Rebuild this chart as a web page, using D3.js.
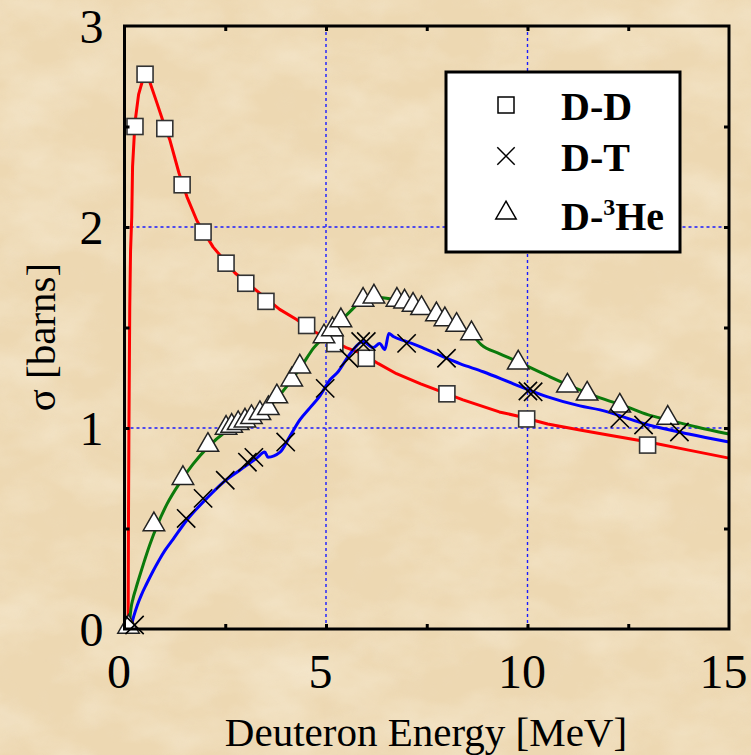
<!DOCTYPE html>
<html><head><meta charset="utf-8">
<script src="https://cdn.jsdelivr.net/npm/d3@7"></script>
<style>
html,body{margin:0;padding:0;background:#ecd6ae;}
svg{display:block;}
svg text{font-family:"Liberation Serif","Times New Roman",Times,serif;}
</style>
</head><body>
<svg id="chart" width="751" height="755"></svg>
<script>
// ---------- DATA ----------
const xTicks = [0, 5, 10, 15];
const yTicks = [0, 1, 2, 3];
const xMinor = [2.5, 5, 7.5, 10, 12.5];
const yMinor = [0.5, 1, 1.5, 2, 2.5];
const xGrid = [5, 10];
const yGrid = [1, 2];
const seriesNames = ["D-D", "D-T", "D-3He"];

// D-D curve (red)
const ddCurve = [[0.09,0],[0.10,0.6],[0.11,1.0],[0.13,1.6],[0.15,1.88],[0.18,2.05],[0.20,2.30],[0.26,2.52],[0.35,2.66],[0.45,2.73],[0.56,2.76],[0.63,2.72],[0.8,2.62],[0.95,2.53],[1.13,2.43],[1.35,2.27],[1.55,2.15],[1.8,2.03],[2.2,1.9],[2.75,1.77],[3.3,1.68],[3.85,1.59],[4.27,1.54],[4.7,1.48],[5.2,1.43],[5.5,1.40],[5.9,1.37],[6.3,1.32],[6.75,1.27],[7.35,1.22],[8.4,1.14],[9.3,1.08],[9.75,1.06],[10.5,1.02],[11.3,0.99],[12.0,0.965],[13.0,0.93],[14.0,0.89],[15.0,0.85]];
// D-T curve (blue)
const dtCurve = [[0.17,0],[0.19,0.03],[0.24,0.07],[0.32,0.12],[0.42,0.17],[0.55,0.225],[0.7,0.285],[0.85,0.34],[1.0,0.39],[1.2,0.445],[1.54,0.54],[2.04,0.65],[2.45,0.73],[2.86,0.79],[3.28,0.85],[3.48,0.88],[3.56,0.855],[3.86,0.88],[4.1,0.957],[4.35,1.04],[4.6,1.10],[4.85,1.16],[5.1,1.24],[5.3,1.28],[5.6,1.37],[5.92,1.43],[6.17,1.40],[6.33,1.42],[6.46,1.39],[6.56,1.47],[6.67,1.455],[7.0,1.43],[7.33,1.405],[7.5,1.39],[7.9,1.355],[8.32,1.32],[8.9,1.28],[9.65,1.22],[10.5,1.155],[11.3,1.11],[11.8,1.09],[13.0,1.015],[14.0,0.97],[15.0,0.93]];
// D-3He curve (green)
const dheCurve = [[0.12,0],[0.135,0.05],[0.16,0.1],[0.21,0.15],[0.28,0.2],[0.37,0.26],[0.48,0.33],[0.63,0.42],[0.8,0.51],[1.05,0.62],[1.38,0.73],[1.7,0.82],[2.07,0.905],[2.5,0.98],[3.0,1.04],[3.4,1.08],[3.7,1.13],[4.15,1.24],[4.4,1.31],[4.7,1.40],[5.0,1.46],[5.2,1.49],[5.4,1.54],[5.6,1.58],[5.9,1.635],[6.2,1.65],[6.5,1.645],[6.8,1.635],[7.2,1.61],[7.7,1.565],[8.2,1.51],[8.6,1.47],[8.85,1.415],[9.3,1.37],[9.7,1.335],[10.5,1.26],[11.0,1.215],[11.8,1.15],[12.4,1.11],[13.0,1.065],[13.5,1.04],[14.2,1.005],[15.0,0.97]];

// measured points
const ddPoints = [[0.26,2.50],[0.51,2.76],[1.0,2.49],[1.43,2.21],[1.95,1.975],[2.52,1.82],[3.01,1.72],[3.51,1.63],[4.52,1.51],[5.22,1.42],[6.0,1.347],[8.0,1.17],[9.98,1.045],[12.98,0.915]];
const dtPoints = [[0.25,0.02],[1.53,0.55],[1.95,0.65],[2.5,0.74],[3.05,0.83],[3.21,0.854],[4.0,0.93],[4.98,1.197],[5.57,1.347],[5.86,1.43],[6.0,1.43],[7.0,1.421],[7.99,1.347],[10.01,1.184],[10.14,1.18],[12.29,1.048],[12.88,1.015],[13.77,0.98]];
const dhePoints = [[0.1,0.01],[0.73,0.52],[1.45,0.75],[2.07,0.915],[2.52,1.0],[2.66,1.01],[2.82,1.023],[2.99,1.036],[3.15,1.053],[3.36,1.073],[3.57,1.098],[3.78,1.156],[4.15,1.24],[4.35,1.305],[4.95,1.455],[5.16,1.49],[5.37,1.535],[5.92,1.637],[6.19,1.653],[6.76,1.637],[6.95,1.628],[7.16,1.612],[7.37,1.595],[7.74,1.565],[7.95,1.54],[8.24,1.512],[8.61,1.47],[9.77,1.325],[10.99,1.21],[11.48,1.17],[12.29,1.11],[13.48,1.05]];

// ---------- LAYOUT ----------
const W = 751, H = 755;
const L = 124.5, R = 729, T = 26, B = 629;
const svg = d3.select("#chart");
const x = d3.scaleLinear().domain([0, 15]).range([L, R]);
const y = d3.scaleLinear().domain([0, 3]).range([B, T]);
const serif = "Liberation Serif";

// background texture (subtle parchment)
const defs = svg.append("defs");
const f = defs.append("filter").attr("id", "tex").attr("x", 0).attr("y", 0).attr("width", 1).attr("height", 1);
f.append("feTurbulence").attr("type", "fractalNoise").attr("baseFrequency", "0.012 0.02").attr("numOctaves", 4).attr("seed", 7);
f.append("feColorMatrix").attr("type", "matrix")
  .attr("values", "0 0 0 0 0.97  0 0 0 0 0.91  0 0 0 0 0.78  1.2 0 0 0 -0.45");
const f2 = defs.append("filter").attr("id", "tex2").attr("x", 0).attr("y", 0).attr("width", 1).attr("height", 1);
f2.append("feTurbulence").attr("type", "fractalNoise").attr("baseFrequency", "0.04 0.03").attr("numOctaves", 3).attr("seed", 21);
f2.append("feColorMatrix").attr("type", "matrix")
  .attr("values", "0 0 0 0 0.85  0 0 0 0 0.74  0 0 0 0 0.58  1.0 0 0 0 -0.5");
svg.append("rect").attr("width", W).attr("height", H).attr("fill", "#edd8b2");
svg.append("rect").attr("width", W).attr("height", H).attr("filter", "url(#tex)").attr("opacity", 0.7);
svg.append("rect").attr("width", W).attr("height", H).attr("filter", "url(#tex2)").attr("opacity", 0.35);

// grid
const grid = svg.append("g").attr("stroke", "#1a1aff").attr("stroke-width", 1.4).attr("stroke-dasharray", "3,3");
grid.selectAll(".gx").data(xGrid).join("line").attr("x1", d => x(d)).attr("x2", d => x(d)).attr("y1", T).attr("y2", B);
grid.selectAll(".gy").data(yGrid).join("line").attr("y1", d => y(d)).attr("y2", d => y(d)).attr("x1", L).attr("x2", R);

// curves
const lineS = d3.line().x(d => x(d[0])).y(d => y(d[1])).curve(d3.curveMonotoneX);
const lineV = d3.line().x(d => x(d[0])).y(d => y(d[1])).curve(d3.curveLinear);
svg.append("path").datum(ddCurve).attr("d", lineV).attr("fill", "none").attr("stroke", "#ff0000").attr("stroke-width", 3).attr("stroke-linejoin", "round");
svg.append("path").datum(dheCurve).attr("d", lineS).attr("fill", "none").attr("stroke", "#0b7a0b").attr("stroke-width", 3).attr("stroke-linejoin", "round");
svg.append("path").datum(dtCurve).attr("d", lineS).attr("fill", "none").attr("stroke", "#0000ff").attr("stroke-width", 3).attr("stroke-linejoin", "round");

// markers
const sq = 16;
svg.append("g").selectAll("rect").data(ddPoints).join("rect")
  .attr("x", d => x(d[0]) - sq/2).attr("y", d => y(d[1]) - sq/2).attr("width", sq).attr("height", sq)
  .attr("fill", "#fff").attr("stroke", "#333").attr("stroke-width", 1.6);
const tri = d3.symbol().type(d3.symbolTriangle).size(200);
svg.append("g").selectAll("path").data(dhePoints).join("path")
  .attr("d", tri).attr("transform", d => `translate(${x(d[0])},${y(d[1])})`)
  .attr("fill", "#fff").attr("stroke", "#222").attr("stroke-width", 1.5).attr("stroke-linejoin", "miter");
const cross = d3.symbol().type(d3.symbolX).size(220);
svg.append("g").selectAll("path").data(dtPoints).join("path")
  .attr("d", cross).attr("transform", d => `translate(${x(d[0])},${y(d[1])})`)
  .attr("fill", "none").attr("stroke", "#000").attr("stroke-width", 1.6);

// axes (ticks inward)
const axG = svg.append("g");
axG.append("g").attr("transform", `translate(0,${B})`).call(d3.axisBottom(x).tickValues(xMinor).tickSize(-5).tickFormat(""));
axG.append("g").attr("transform", `translate(0,${T})`).call(d3.axisTop(x).tickValues(xMinor).tickSize(-5).tickFormat(""));
axG.append("g").attr("transform", `translate(${L},0)`).call(d3.axisLeft(y).tickValues(yMinor).tickSize(-5).tickFormat(""));
axG.append("g").attr("transform", `translate(${R},0)`).call(d3.axisRight(y).tickValues(yMinor).tickSize(-5).tickFormat(""));
axG.selectAll(".domain").remove();
axG.selectAll(".tick line").attr("stroke", "#000").attr("stroke-width", 3);
svg.append("rect").attr("x", L).attr("y", T).attr("width", R - L).attr("height", B - T)
  .attr("fill", "none").attr("stroke", "#000").attr("stroke-width", 3);

// tick labels
const xl = svg.append("g").attr("transform", `translate(0,${B})`)
  .call(d3.axisBottom(x).tickValues(xTicks).tickSize(0).tickPadding(0).tickFormat(d3.format("d")));
xl.select(".domain").remove();
xl.attr("font-family", null).attr("font-size", null);
xl.selectAll("text").style("font-family", serif).attr("font-size", 48).attr("fill", "#000")
  .attr("dy", null).attr("y", 59).attr("dx", -6);
const yl = svg.append("g").attr("transform", `translate(${L},0)`)
  .call(d3.axisLeft(y).tickValues(yTicks).tickSize(0).tickPadding(0).tickFormat(d3.format("d")));
yl.select(".domain").remove();
yl.attr("font-family", null).attr("font-size", null);
yl.selectAll("text").style("font-family", serif).attr("font-size", 48).attr("fill", "#000")
  .attr("x", -21).attr("dy", 16);

// axis titles
svg.append("text").attr("x", 426).attr("y", 746).attr("text-anchor", "middle")
  .style("font-family", serif).attr("font-size", 41).text("Deuteron Energy [MeV]");
svg.append("text").attr("transform", "translate(55,337) rotate(-90)").attr("text-anchor", "middle")
  .style("font-family", serif).attr("font-size", 41).text("σ [barns]");

// legend
const lg = svg.append("g");
lg.append("rect").attr("x", 446).attr("y", 72).attr("width", 234).attr("height", 180)
  .attr("fill", "#fff").attr("stroke", "#000").attr("stroke-width", 3);
const rowY = [105, 156, 213];
const baseY = [120, 171, 230];
lg.append("rect").attr("x", 506 - 8).attr("y", rowY[0] - 8).attr("width", 16).attr("height", 16)
  .attr("fill", "#fff").attr("stroke", "#000").attr("stroke-width", 1.5);
lg.append("path").attr("d", d3.symbol().type(d3.symbolX).size(200)).attr("transform", `translate(506,${rowY[1]})`)
  .attr("fill", "none").attr("stroke", "#000").attr("stroke-width", 1.5);
lg.append("path").attr("d", d3.symbol().type(d3.symbolTriangle).size(180)).attr("transform", `translate(506,${rowY[2]})`)
  .attr("fill", "#fff").attr("stroke", "#000").attr("stroke-width", 1.5);
lg.append("text").attr("x", 561).attr("y", baseY[0]).style("font-family", serif).attr("font-weight", "bold").attr("font-size", 40).text(seriesNames[0]);
lg.append("text").attr("x", 561).attr("y", baseY[1]).style("font-family", serif).attr("font-weight", "bold").attr("font-size", 40).text(seriesNames[1]);
const t3 = lg.append("text").attr("x", 561).attr("y", baseY[2]).style("font-family", serif).attr("font-weight", "bold").attr("font-size", 40);
t3.append("tspan").text("D-");
t3.append("tspan").attr("font-size", 24).attr("dy", -15).text("3");
t3.append("tspan").attr("dy", 15).text("He");
</script>
</body></html>
